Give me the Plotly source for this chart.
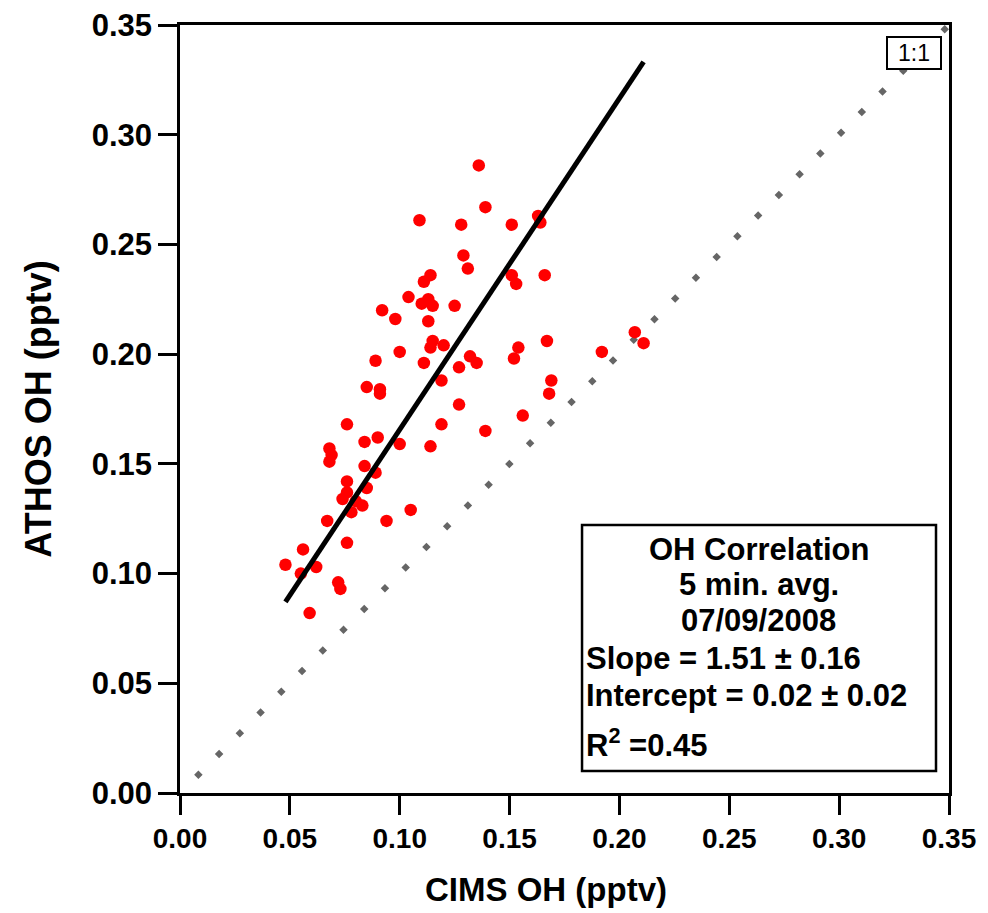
import plotly.graph_objects as go

# CIMS OH vs ATHOS OH, 5 min. averages (pptv)
cims_oh = [
    0.048, 0.056, 0.055, 0.062, 0.059, 0.067, 0.068, 0.069, 0.068, 0.072,
    0.073, 0.076, 0.074, 0.076, 0.076, 0.076, 0.078, 0.080, 0.083, 0.084,
    0.085, 0.084, 0.085, 0.089, 0.089, 0.090, 0.091, 0.091, 0.092, 0.094,
    0.098, 0.100, 0.100, 0.105, 0.104, 0.109, 0.110, 0.111, 0.111, 0.113,
    0.113, 0.114, 0.114, 0.115, 0.114, 0.115, 0.119, 0.119, 0.120, 0.125,
    0.127, 0.127, 0.128, 0.129, 0.131, 0.132, 0.135, 0.136, 0.139, 0.139,
    0.151, 0.151, 0.152, 0.154, 0.153, 0.156, 0.163, 0.164, 0.166, 0.167,
    0.168, 0.169, 0.192, 0.207, 0.211,
]
athos_oh = [
    0.104, 0.111, 0.100, 0.103, 0.082, 0.124, 0.157, 0.154, 0.151, 0.096,
    0.093, 0.114, 0.134, 0.168, 0.142, 0.137, 0.128, 0.133, 0.131, 0.149,
    0.139, 0.160, 0.185, 0.197, 0.146, 0.162, 0.184, 0.182, 0.220, 0.124,
    0.216, 0.159, 0.201, 0.129, 0.226, 0.261, 0.223, 0.233, 0.196, 0.225,
    0.215, 0.158, 0.236, 0.206, 0.203, 0.222, 0.188, 0.168, 0.204, 0.222,
    0.194, 0.177, 0.259, 0.245, 0.239, 0.199, 0.196, 0.286, 0.267, 0.165,
    0.259, 0.236, 0.198, 0.203, 0.232, 0.172, 0.263, 0.260, 0.236, 0.206,
    0.182, 0.188, 0.201, 0.210, 0.205,
]

fit_slope = 1.51
fit_intercept = 0.0146
one_to_one = [0.0074, 0.35]

axis_ticks = [0.00, 0.05, 0.10, 0.15, 0.20, 0.25, 0.30, 0.35]

title_lines = ["OH Correlation", "5 min. avg.", "07/09/2008"]
stat_lines = ["Slope = 1.51 ± 0.16", "Intercept = 0.02 ± 0.02", "R<sup>2</sup> =0.45"]

FONT = "Arial, Liberation Sans, sans-serif"

fit_x = [min(cims_oh), max(cims_oh)]
fit_y = [fit_intercept + fit_slope * v for v in fit_x]

fig = go.Figure()
fig.add_trace(go.Scatter(
    x=one_to_one, y=one_to_one, mode="lines",
    line=dict(color="#666666", width=6, dash="6px,23.3px"),
    hoverinfo="skip",
))
fig.add_trace(go.Scatter(
    x=cims_oh, y=athos_oh, mode="markers",
    marker=dict(color="#ff0000", size=12.5, line=dict(width=0)),
))
fig.add_trace(go.Scatter(
    x=fit_x, y=fit_y, mode="lines",
    line=dict(color="black", width=5),
))

axis_common = dict(
    range=[0, 0.35], tickvals=axis_ticks, tickformat=".2f",
    showgrid=False, zeroline=False,
    showline=True, linecolor="black", linewidth=2.5, mirror=True,
    ticks="outside", ticklen=19, tickwidth=2.5, tickcolor="black",
    automargin=False,
)

fig.update_layout(
    width=988, height=913,
    margin=dict(l=180, r=39, t=25, b=120),
    plot_bgcolor="white", paper_bgcolor="white",
    showlegend=False,
    font=dict(family=FONT, color="black"),
    xaxis=dict(
        **axis_common,
        tickfont=dict(size=28, family=FONT, weight="bold"),
    ),
    yaxis=dict(
        **axis_common,
        tickfont=dict(size=31, family=FONT, weight="bold"),
        title=dict(text="<b>ATHOS OH (pptv)</b>", font=dict(size=36), standoff=30),
    ),
)

# x axis title, sits a little left of the plot centre in the original
fig.add_annotation(text="<b>CIMS OH (pptv)</b>", xref="x domain", yref="y domain",
                   x=0.476, y=-0.1263, xanchor="center", yanchor="middle",
                   showarrow=False, font=dict(size=33, family=FONT))

# stats box
fig.add_shape(type="rect", xref="x domain", yref="y domain",
              x0=0.5228, x1=0.9831, y0=0.0286, y1=0.349,
              line=dict(color="black", width=2.5), fillcolor="white", layer="above")

for txt, yy in zip(title_lines, [0.3177, 0.2721, 0.2240]):
    fig.add_annotation(text="<b>%s</b>" % txt, xref="x domain", yref="y domain",
                       x=0.7529, y=yy, xanchor="center", yanchor="middle",
                       showarrow=False, font=dict(size=31, family=FONT))
for txt, yy in zip(stat_lines, [0.1745, 0.1276, 0.0651]):
    fig.add_annotation(text="<b>%s</b>" % txt, xref="x domain", yref="y domain",
                       x=0.5254, y=yy, xanchor="left", yanchor="middle",
                       showarrow=False, font=dict(size=31, family=FONT))

# 1:1 label
fig.add_annotation(text="1:1", xref="x domain", yref="y domain",
                   x=0.954, y=0.964, xanchor="center", yanchor="middle",
                   showarrow=False, font=dict(size=23, family=FONT),
                   bordercolor="black", borderwidth=2, bgcolor="white",
                   width=50, height=28, borderpad=1)

fig.write_html("out.html", config={"displayModeBar": False},
               post_script="document.body.style.margin='0';")
